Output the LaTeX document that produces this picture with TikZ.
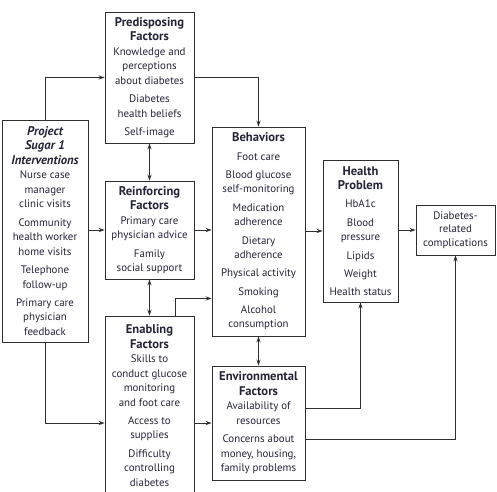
\documentclass[tikz,border=0pt]{standalone}
\usepackage{fontspec}
\setmainfont{PT Sans}
\usetikzlibrary{arrows.meta,calc}
\definecolor{ln}{HTML}{2E2E2E}
\definecolor{tx}{HTML}{25253A}
\tikzset{
  box/.style={draw=ln, line width=0.9pt, align=center, inner sep=0pt, text=tx,
    font=\fontsize{10.9}{14.5}\selectfont},
  conn/.style={draw=ln, line width=0.8pt, -{Stealth[length=6pt,width=4.2pt]}},
  dconn/.style={draw=ln, line width=0.8pt, {Stealth[length=6pt,width=4.2pt]}-{Stealth[length=6pt,width=4.2pt]}},
}
\newcommand{\gp}{\\[3.8pt]}
\newcommand{\ttl}[1]{{\fontsize{12.6}{14.5}\selectfont\bfseries #1}}
\newcommand{\tti}[1]{{\fontsize{12.6}{14.5}\selectfont\bfseries\itshape #1}}
\begin{document}
\begin{tikzpicture}[x=1pt,y=-1pt]
\useasboundingbox[fill=white] (0,0) rectangle (497,491);
\node[box, minimum width=89pt, minimum height=131pt] (pre) at (149.5,77.5)
 {\ttl{Predisposing}\\\ttl{Factors}\\Knowledge and\\perceptions\\about diabetes\gp Diabetes\\health beliefs\gp Self-image};
\node[box, minimum width=86pt, minimum height=222pt] (proj) at (45,231)
 {\tti{Project}\\\tti{Sugar 1}\\\tti{Interventions}\\Nurse case\\manager\\clinic visits\gp Community\\health worker\\home visits\gp Telephone\\follow-up\gp Primary care\\physician\\feedback};
\node[box, minimum width=89pt, minimum height=98pt] (rein) at (149.5,230)
 {\ttl{Reinforcing}\\\ttl{Factors}\\Primary care\\physician advice\gp Family\\social support};
\node[box, minimum width=89pt, minimum height=179pt] (enab) at (149.5,405.5)
 {\ttl{Enabling}\\\ttl{Factors}\\Skills to\\conduct glucose\\monitoring\\and foot care\gp Access to\\supplies\gp Difficulty\\controlling\\diabetes};
\node[box, minimum width=93pt, minimum height=209pt] (beh) at (258.5,231.5)
 {\ttl{Behaviors}\gp Foot care\gp Blood glucose\\self-monitoring\gp Medication\\adherence\gp Dietary\\adherence\gp Physical activity\gp Smoking\gp Alcohol\\consumption};
\node[box, minimum width=75pt, minimum height=142pt] (hp) at (360.5,231)
 {\ttl{Health}\\\ttl{Problem}\gp HbA1c\gp Blood\\pressure\gp Lipids\gp Weight\gp Health status};
\node[box, minimum width=79pt, minimum height=50pt, font=\fontsize{10.9}{13.5}\selectfont] (dia) at (455.5,230)
 {Diabetes-\\related\\complications};
\node[box, minimum width=93pt, minimum height=114pt] (env) at (258.5,423)
 {\ttl{Environmental}\\\ttl{Factors}\\Availability of\\resources\gp Concerns about\\money, housing,\\family problems};
% connectors
\draw[conn] (proj.north) |- (pre.west);
\draw[conn] (pre.east) -| (beh.north);
\draw[dconn] (pre.south) -- (rein.north);
\draw[conn] (rein.west -| proj.east) -- (rein.west);
\draw[conn] (rein.east) -- (rein.east -| beh.west);
\draw[dconn] (rein.south) -- (enab.north);
\draw[conn] ([xshift=25.5pt]enab.north) |- ([yshift=38pt]beh.south west);
\draw[conn] (proj.south) |- (enab.west |- env.west);
\draw[conn] (enab.east |- env.west) -- (env.west);
\draw[dconn] (beh.south) -- (env.north);
\draw[conn] (hp.west -| beh.east) -- (hp.west);
\draw[conn] (hp.east |- dia.west) -- (dia.west);
\draw[conn] ([yshift=15pt]env.east) -| (hp.south);
\draw[conn] ([yshift=-16pt]env.east) -| (dia.south);
\end{tikzpicture}
\end{document}
